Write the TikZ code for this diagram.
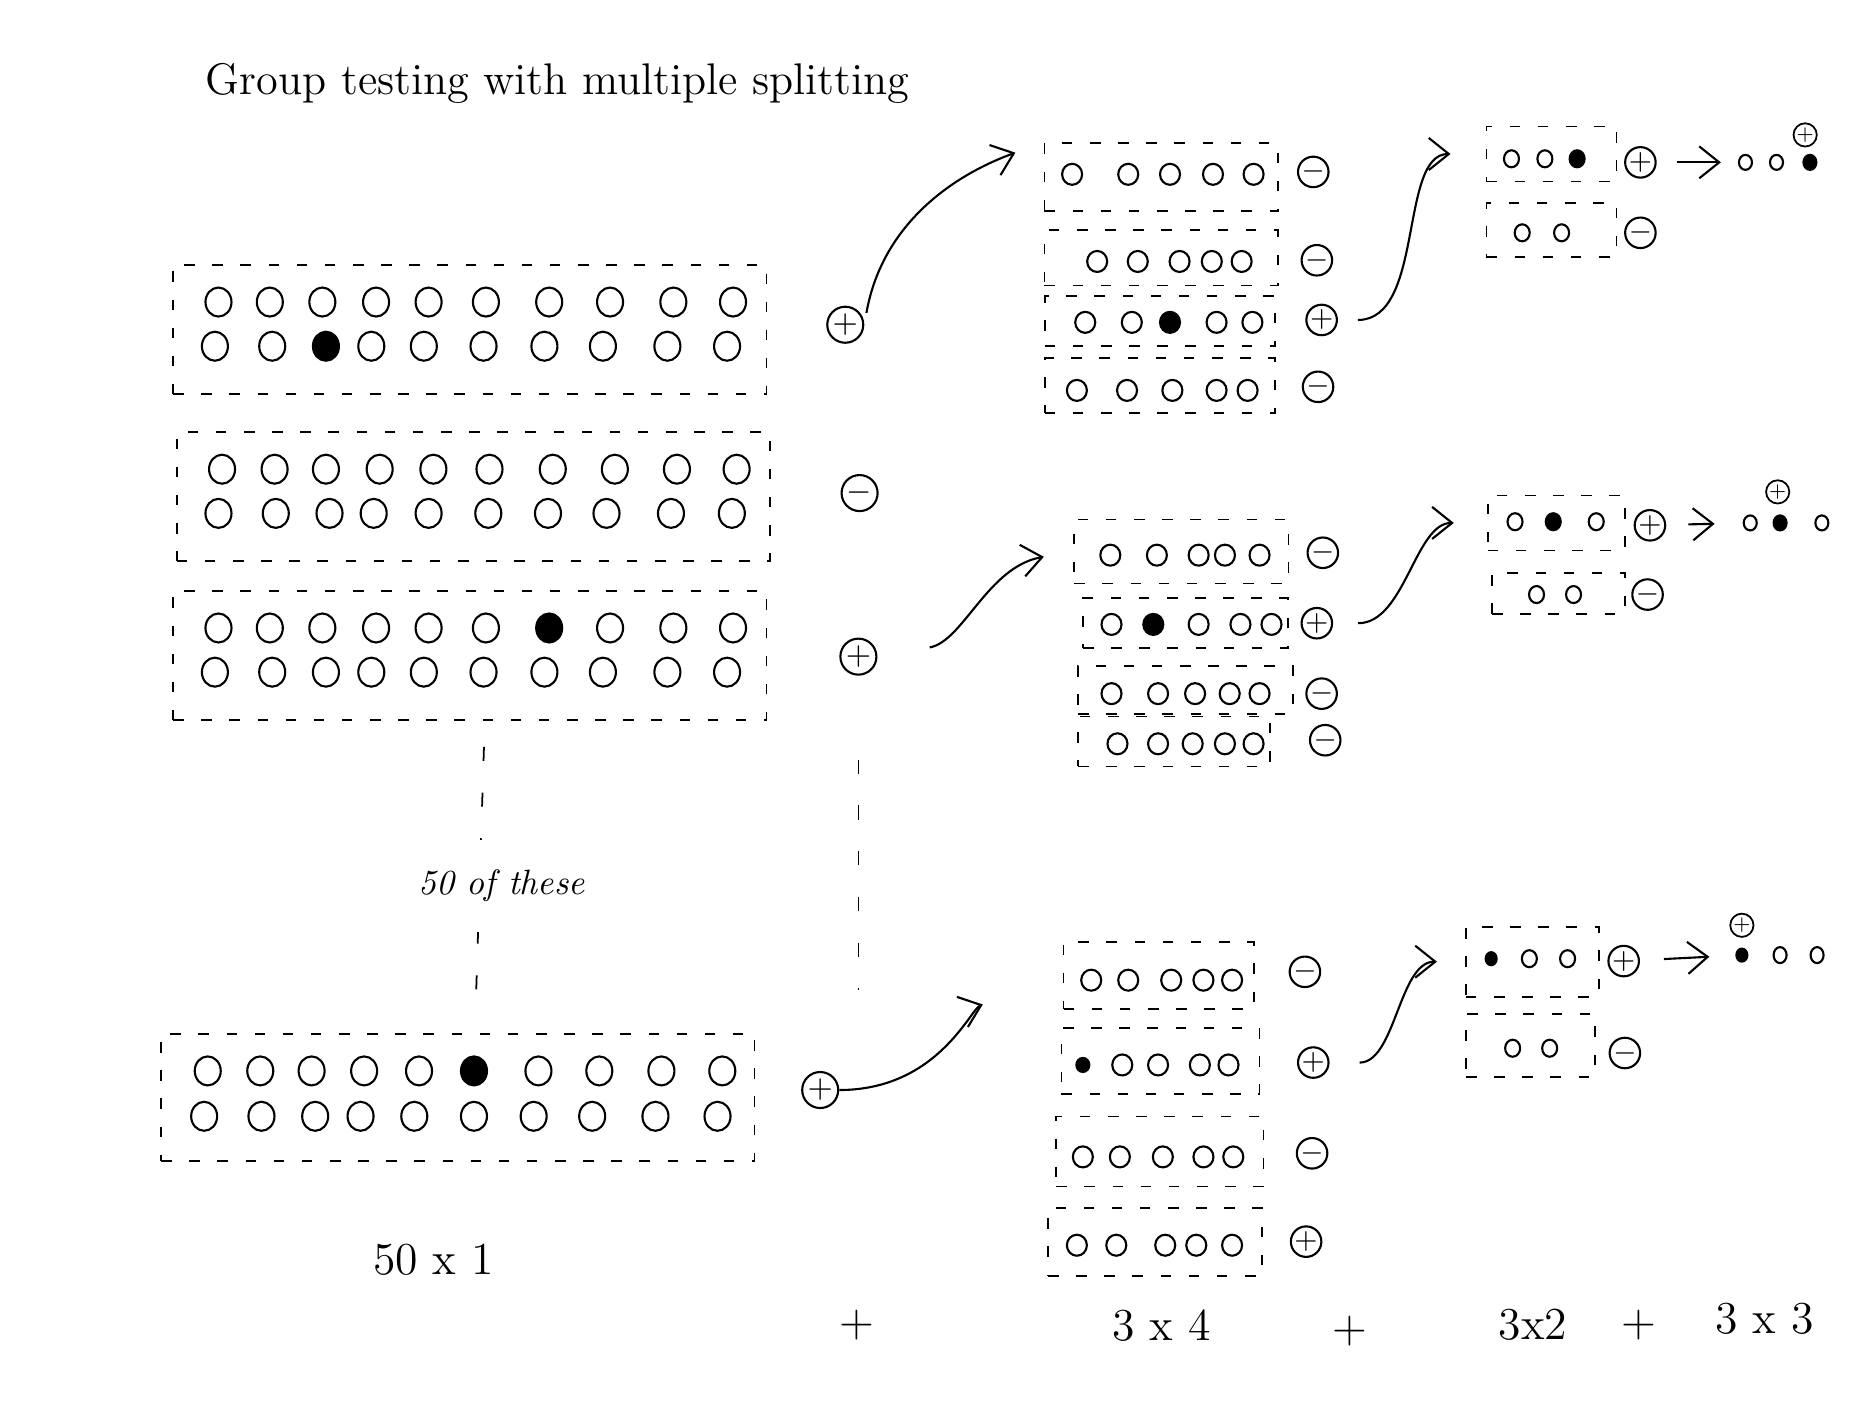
\documentclass[tikz,border=0pt]{standalone}
\usetikzlibrary{arrows.meta,shapes.geometric}

\tikzset{
  grupo/.style={draw, dash pattern=on 3pt off 5pt, line width=0.5pt, inner sep=0pt},
  muestra/.style={ellipse, draw, line width=0.6pt, inner sep=0pt, minimum width=0.26cm, minimum height=0.29cm},
  muestrita/.style={ellipse, draw, line width=0.6pt, inner sep=0pt, minimum width=0.2cm, minimum height=0.21cm},
  puntito/.style={ellipse, draw, line width=0.6pt, inner sep=0pt, minimum width=0.15cm, minimum height=0.17cm},
  infectada/.style={fill=black},
  signo/.style={circle, draw, line width=0.6pt, inner sep=0pt, minimum size=0.36cm, font=\small},
  signito/.style={circle, draw, line width=0.6pt, inner sep=0pt, minimum size=0.28cm, font=\footnotesize},
  signo final/.style={circle, draw, line width=0.5pt, inner sep=0pt, minimum size=0.2cm, font=\tiny},
  flecha/.style={line width=0.6pt, arrows={->}, >={Straight Barb[length=2mm, width=3.2mm]}},
  guion/.style={line width=0.5pt, dash pattern=on 4pt off 9pt},
  rotulo/.style={font=\fontsize{13}{15}\selectfont}
}

\begin{document}
\begin{tikzpicture}[x=0.01194cm, y=-0.01194cm]
\useasboundingbox (0,0) rectangle (1568,1176);

% Titulo
\node[font=\fontsize{12.6}{15}\selectfont] (titulo) at (467,70) {Group testing with multiple splitting};

% Grupos de 20
\node[grupo, minimum width=5.93cm, minimum height=1.29cm] (G1) at (393.5,276) {};
\foreach \x [count=\i] in {183,226,270,315,359,407,460,511,564,614}
  \node[muestra] (g1a\i) at (\x,253) {};
\foreach \x [count=\i] in {180,228}
  \node[muestra] (g1b\i) at (\x,290) {};
\node[muestra, infectada] (g1b3) at (273,290) {};
\foreach \x [count=\i from 4] in {311,355,405,456,505,559,609}
  \node[muestra] (g1b\i) at (\x,290) {};

\node[grupo, minimum width=5.93cm, minimum height=1.29cm] (G2) at (396.5,416) {};
\foreach \x [count=\i] in {186,230,273,318,363,410,463,515,567,617}
  \node[muestra] (g2a\i) at (\x,393) {};
\foreach \x [count=\i] in {183,231,276,313,359,409,459,508,562,613}
  \node[muestra] (g2b\i) at (\x,430) {};

\node[grupo, minimum width=5.93cm, minimum height=1.29cm] (G3) at (393.5,549) {};
\foreach \x [count=\i] in {183,226,270,315,359,407}
  \node[muestra] (g3a\i) at (\x,526) {};
\node[muestra, infectada] (g3a7) at (460,526) {};
\foreach \x [count=\i from 8] in {511,564,614}
  \node[muestra] (g3a\i) at (\x,526) {};
\foreach \x [count=\i] in {180,228,273,311,355,405,456,505,559,609}
  \node[muestra] (g3b\i) at (\x,563) {};

\node[grupo, minimum width=5.93cm, minimum height=1.27cm] (G4) at (383.5,919) {};
\foreach \x [count=\i] in {174,218,261,305,351}
  \node[muestra] (g4a\i) at (\x,897) {};
\node[muestra, infectada] (g4a6) at (397,897) {};
\foreach \x [count=\i from 7] in {451,502,554,605}
  \node[muestra] (g4a\i) at (\x,897) {};
\foreach \x [count=\i] in {171,219,264,302,347,397,447,496,549,601}
  \node[muestra] (g4b\i) at (\x,935) {};

% Resultados de los grupos de 20
\node[signo] (S1) at (708,272) {$+$};
\node[signo] (S2) at (720,413) {$-$};
\node[signo] (S3) at (719,550) {$+$};
\node[signo] (S4) at (687,913) {$+$};

% Los 50 grupos
\draw[guion, shorten <=0.26cm, shorten >=0.13cm] ([xshift=0.15cm]G3.south) -- ([xshift=0.17cm]G4.north);
\node[fill=white, inner xsep=2pt, inner ysep=0.3cm, font=\itshape] (texto50) at (420,742) {50 of these};
\draw[guion, shorten <=0.84cm, shorten >=0.81cm] (S3.south) -- (S3.south |- S4.north);

% Primera division (4 grupos de 5)
\node[grupo, minimum width=2.33cm, minimum height=0.68cm] (M1) at (972.5,148.5) {};
\foreach \x [count=\i] in {898,945,980,1016,1050}
  \node[muestrita] (m1\i) at (\x,146) {};
\node[grupo, minimum width=2.33cm, minimum height=0.55cm] (M2) at (972.5,216) {};
\foreach \x [count=\i] in {919,953,988,1015,1040}
  \node[muestrita] (m2\i) at (\x,219) {};
\node[grupo, minimum width=2.30cm, minimum height=0.50cm] (M3) at (971.5,269) {};
\foreach \x [count=\i] in {909,948}
  \node[muestrita] (m3\i) at (\x,270) {};
\node[muestrita, infectada] (m33) at (980,270) {};
\foreach \x [count=\i from 4] in {1019,1049}
  \node[muestrita] (m3\i) at (\x,270) {};
\node[grupo, minimum width=2.30cm, minimum height=0.55cm] (M4) at (971.5,323) {};
\foreach \x [count=\i] in {902,944,982,1019,1045}
  \node[muestrita] (m4\i) at (\x,327) {};

\node[signito] (SM1) at (1100,144) {$-$};
\node[signito] (SM2) at (1103,218) {$-$};
\node[signito] (SM3) at (1107,268) {$+$};
\node[signito] (SM4) at (1104,324) {$-$};

\node[grupo, minimum width=2.14cm, minimum height=0.64cm] (M5) at (989.5,462) {};
\foreach \x [count=\i] in {930,969,1004,1026,1055}
  \node[muestrita] (m5\i) at (\x,465) {};
\node[grupo, minimum width=2.05cm, minimum height=0.50cm] (M6) at (993,522) {};
\node[muestrita] (m61) at (931,523) {};
\node[muestrita, infectada] (m62) at (966,523) {};
\foreach \x [count=\i from 3] in {1004,1039,1065}
  \node[muestrita] (m6\i) at (\x,523) {};
\node[grupo, minimum width=2.15cm, minimum height=0.48cm] (M7) at (993,578) {};
\foreach \x [count=\i] in {931,970,1001,1030,1055}
  \node[muestrita] (m7\i) at (\x,581) {};
\node[grupo, minimum width=1.92cm, minimum height=0.50cm] (M8) at (983.5,621) {};
\foreach \x [count=\i] in {936,970,999,1026,1050}
  \node[muestrita] (m8\i) at (\x,623) {};

\node[signito] (SM5) at (1108,463) {$-$};
\node[signito] (SM6) at (1103,522) {$+$};
\node[signito] (SM7) at (1107,581) {$-$};
\node[signito] (SM8) at (1110,620) {$-$};

\node[grupo, minimum width=1.90cm, minimum height=0.67cm] (M9) at (970.5,817) {};
\foreach \x [count=\i] in {914,945,981,1008,1032}
  \node[muestrita] (m9\i) at (\x,821) {};
\node[grupo, minimum width=1.98cm, minimum height=0.66cm] (M10) at (972,888.5) {};
\node[muestrita, infectada, minimum width=0.13cm, minimum height=0.14cm] (m101) at (907,892) {};
\foreach \x [count=\i from 2] in {940,970,1005,1029}
  \node[muestrita] (m10\i) at (\x,892) {};
\node[grupo, minimum width=2.07cm, minimum height=0.70cm] (M11) at (971.5,964.5) {};
\foreach \x [count=\i] in {907,938,974,1008,1033}
  \node[muestrita] (m11\i) at (\x,969) {};
\node[grupo, minimum width=2.14cm, minimum height=0.68cm] (M12) at (967.5,1040.5) {};
\foreach \x [count=\i] in {902,935,976,1002,1032}
  \node[muestrita] (m12\i) at (\x,1043) {};

\node[signito] (SM9) at (1093,814) {$-$};
\node[signito] (SM10) at (1100,890) {$+$};
\node[signito] (SM11) at (1099,966) {$-$};
\node[signito] (SM12) at (1094,1040) {$+$};

% Segunda division (3 + 2)
\node[grupo, minimum width=1.30cm, minimum height=0.55cm] (P1) at (1299.5,129) {};
\node[puntito] (p11) at (1266,133) {};
\node[puntito] (p12) at (1294,133) {};
\node[puntito, infectada] (p13) at (1321,133) {};
\node[grupo, minimum width=1.30cm, minimum height=0.54cm] (P2) at (1299.5,192.5) {};
\node[puntito] (p21) at (1275,195) {};
\node[puntito] (p22) at (1308,195) {};
\node[signito] (SP1) at (1374,136) {$+$};
\node[signito] (SP2) at (1374,195) {$-$};

\node[grupo, minimum width=1.37cm, minimum height=0.55cm] (P3) at (1303.5,438) {};
\node[puntito] (p31) at (1269,437) {};
\node[puntito, infectada] (p32) at (1301,437) {};
\node[puntito] (p33) at (1337,437) {};
\node[grupo, minimum width=1.33cm, minimum height=0.41cm] (P4) at (1305.5,497) {};
\node[puntito] (p41) at (1287,498) {};
\node[puntito] (p42) at (1318,498) {};
\node[signito] (SP3) at (1382,440) {$+$};
\node[signito] (SP4) at (1380,498) {$-$};

\node[grupo, minimum width=1.33cm, minimum height=0.70cm] (P5) at (1283.5,805.5) {};
\node[puntito, infectada, minimum width=0.11cm, minimum height=0.13cm] (p51) at (1249,803) {};
\node[puntito] (p52) at (1281,803) {};
\node[puntito] (p53) at (1313,803) {};
\node[grupo, minimum width=1.29cm, minimum height=0.63cm] (P6) at (1282,875.5) {};
\node[puntito] (p61) at (1267,878) {};
\node[puntito] (p62) at (1298,878) {};
\node[signito] (SP5) at (1360,805) {$+$};
\node[signito] (SP6) at (1361,882) {$-$};

% Pruebas individuales
\foreach \x [count=\i] in {1462,1488}
  \node[puntito, minimum width=0.13cm, minimum height=0.15cm] (f1\i) at (\x,136) {};
\node[puntito, infectada, minimum width=0.13cm, minimum height=0.15cm] (f13) at (1516,136) {};
\node[signo final] (SF1) at (1512,113) {$+$};

\node[puntito, minimum width=0.13cm, minimum height=0.15cm] (f21) at (1466,438) {};
\node[puntito, infectada, minimum width=0.13cm, minimum height=0.15cm] (f22) at (1491,438) {};
\node[puntito, minimum width=0.13cm, minimum height=0.15cm] (f23) at (1526,438) {};
\node[signo final] (SF2) at (1489,412) {$+$};

\node[puntito, infectada, minimum width=0.11cm, minimum height=0.13cm] (f31) at (1459,800) {};
\foreach \x [count=\i from 2] in {1491,1522}
  \node[puntito, minimum width=0.13cm, minimum height=0.16cm] (f3\i) at (\x,800) {};
\node[signo final] (SF3) at (1459,775) {$+$};

% Flechas
\draw[flecha, shorten <=0.12cm, shorten >=0.3cm] (S1.east) to[out=80, in=200] (M1.north west);
\draw[flecha, shorten <=0.53cm, shorten >=0.3cm] (S3.east) to[out=10, in=190] (M5.west);
\draw[flecha, shorten >=0.85cm] (S4.east) to[out=0, in=200] (M9.west);

\draw[flecha, shorten <=0.2cm, shorten >=0.35cm] (SM3.east) to[out=0, in=180] (P1.west);
\draw[flecha, shorten <=0.25cm, shorten >=0.33cm] (SM6.east) to[out=0, in=180] (P3.west);
\draw[flecha, shorten <=0.3cm, shorten >=0.28cm] (SM10.east) to[out=0, in=180] (P5.west);

\draw[flecha, shorten <=0.2cm, shorten >=0.17cm] (SP1) -- (f11);
\draw[flecha, shorten <=0.22cm, shorten >=0.28cm] (SP3) -- (f21);
\draw[flecha, shorten <=0.24cm, shorten >=0.26cm] (SP5) -- (f31);

% Conteo de pruebas
\node[rotulo] (total1) at (363,1055) {50 x 1};
\node[rotulo] (suma1) at (718,1110) {+};
\node[rotulo] (total2) at (973,1110) {3 x 4};
\node[rotulo] (suma2) at (1131,1115) {+};
\node[rotulo] (total3) at (1284,1110) {3x2};
\node[rotulo] (suma3) at (1373,1110) {+};
\node[rotulo] (total4) at (1478,1105) {3 x 3};

\end{tikzpicture}
\end{document}
